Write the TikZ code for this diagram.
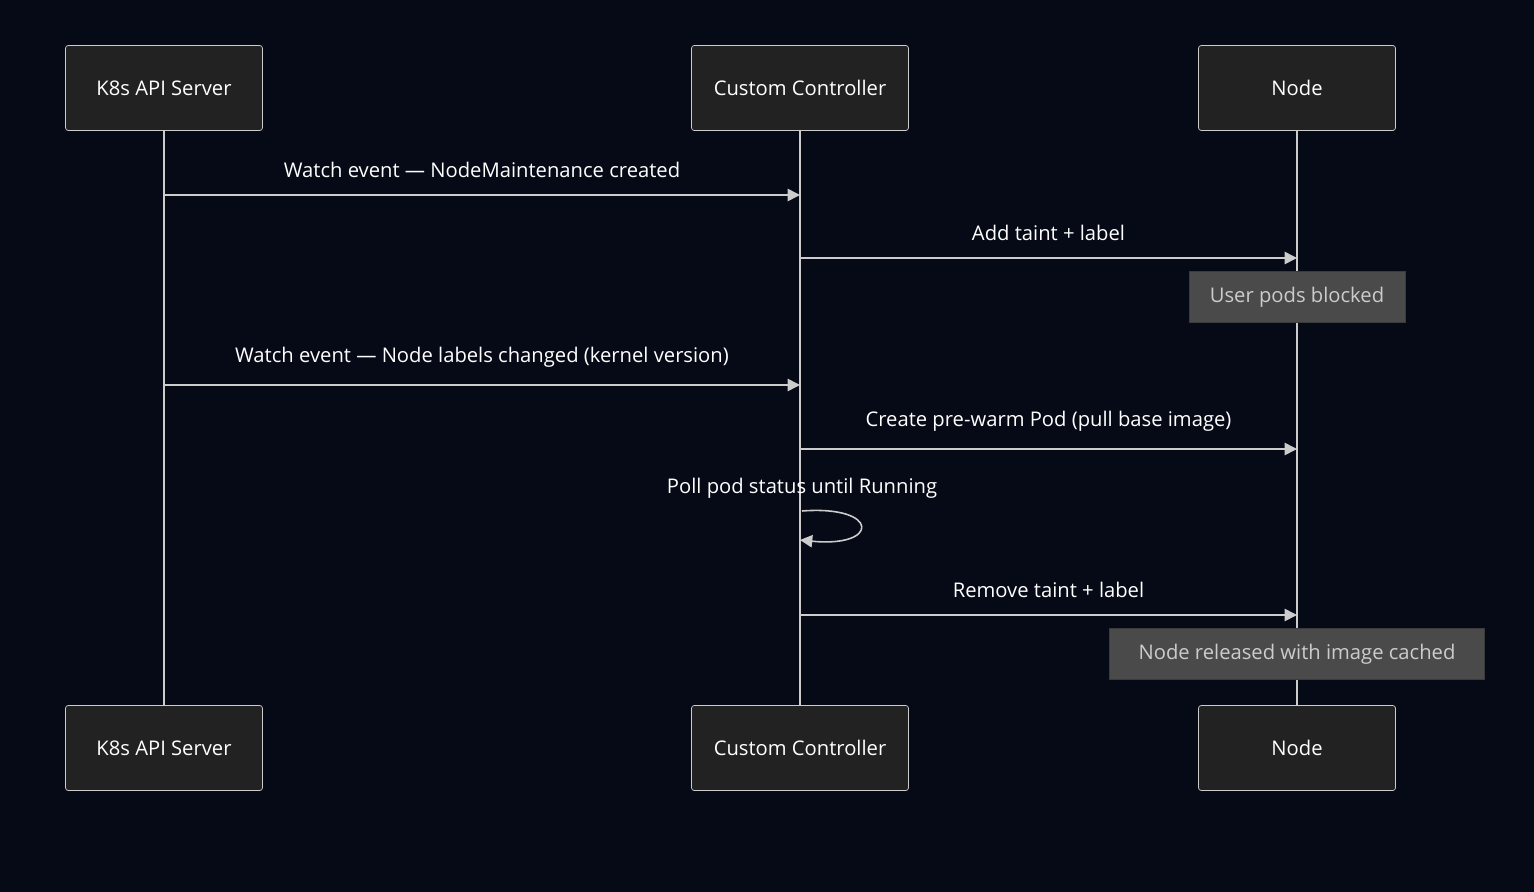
\documentclass[tikz,border=0pt]{standalone}
\usepackage{fontspec}
\setmainfont{Open Sans}
\usetikzlibrary{arrows.meta}
\definecolor{bgc}{HTML}{050A16}
\definecolor{boxc}{HTML}{222222}
\definecolor{notec}{HTML}{4A4A4A}
\definecolor{linec}{HTML}{CCCCCC}
\begin{document}
\begin{tikzpicture}[x=0.02cm,y=-0.02cm,
  actor/.style={draw=linec,fill=boxc,rounded corners=1.5pt,minimum height=1.7cm,text=white,font=\fontsize{11.5}{14}\selectfont},
  note/.style={draw=notec!80!black,fill=notec,minimum height=1.02cm,text=linec,font=\fontsize{11.5}{14}\selectfont},
  life/.style={draw=linec,line width=1.2pt},
  msg/.style={draw=linec,line width=0.9pt,-{Triangle[length=7pt,width=7pt]}},
  lbl/.style={text=white,font=\fontsize{11.5}{14}\selectfont}]
\fill[bgc] (0,0) rectangle (1534,892);
% actors
\node[actor,minimum width=3.94cm] (apiT) at (164,88) {K8s API Server};
\node[actor,minimum width=4.34cm] (ctlT) at (800,88) {Custom Controller};
\node[actor,minimum width=3.94cm] (nodeT) at (1297,88) {Node};
\node[actor,minimum width=3.94cm] (apiB) at (164,748) {K8s API Server};
\node[actor,minimum width=4.34cm] (ctlB) at (800,748) {Custom Controller};
\node[actor,minimum width=3.94cm] (nodeB) at (1297,748) {Node};
% lifelines
\draw[life] (apiT) -- (apiB);
\draw[life] (ctlT) -- (ctlB);
\draw[life] (nodeT) -- (nodeB);
% messages
\coordinate (a1) at (164,195); \coordinate (c1) at (800,195);
\draw[msg] (a1) -- (c1) node[lbl,midway,above=6pt] {Watch event — NodeMaintenance created};
\coordinate (c2) at (800,258); \coordinate (n2) at (1297,258);
\draw[msg] (c2) -- (n2) node[lbl,midway,above=6pt] {Add taint + label};
\node[note,minimum width=4.32cm] (blk) at (1297,297) {User pods blocked};
\coordinate (a3) at (164,385); \coordinate (c3) at (800,385);
\draw[msg] (a3) -- (c3) node[lbl,midway,above=6pt] {Watch event — Node labels changed (kernel version)};
\coordinate (c4) at (800,449); \coordinate (n4) at (1297,449);
\draw[msg] (c4) -- (n4) node[lbl,midway,above=6pt] {Create pre-warm Pod (pull base image)};
\node[lbl] (poll) at (802,488) {Poll pod status until Running};
\coordinate (c5) at (802,511); \coordinate (c6) at (800,540);
\draw[msg] (c5) .. controls (880,505) and (880,548) .. (c6);
\coordinate (c7) at (800,615); \coordinate (n7) at (1297,615);
\draw[msg] (c7) -- (n7) node[lbl,midway,above=6pt] {Remove taint + label};
\node[note,minimum width=7.5cm] (rel) at (1297,654) {Node released with image cached};
\end{tikzpicture}
\end{document}
